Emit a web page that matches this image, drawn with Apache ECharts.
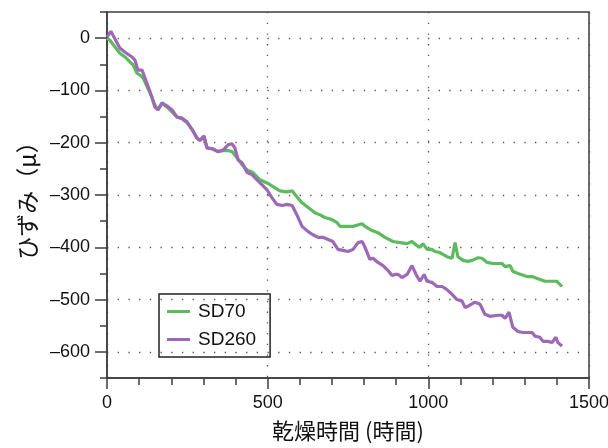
<!DOCTYPE html>
<html>
<head>
<meta charset="utf-8">
<script src="https://cdn.jsdelivr.net/npm/echarts@6/dist/echarts.min.js"></script>
<style>
  html, body { margin: 0; padding: 0; background: #fff; }
  #chart { width: 608px; height: 448px; }
</style>
</head>
<body>
<div id="chart"></div>
<script>
// drying time (hours) and strain (μ)
const hoursSD70 = [0, 9, 40, 56, 72, 81, 93, 103, 112, 134, 149, 159, 171, 187, 202, 218, 233, 249, 265, 280, 289, 302, 311, 330, 345, 361, 377, 389, 405, 420, 436, 454, 476, 498, 517, 538, 560, 576, 585, 607, 626, 647, 663, 678, 700, 716, 725, 747, 766, 794, 803, 825, 843, 865, 890, 912, 934, 949, 965, 974, 983, 996, 1011, 1021, 1036, 1058, 1074, 1083, 1092, 1108, 1123, 1136, 1155, 1167, 1183, 1201, 1229, 1239, 1254, 1263, 1279, 1307, 1323, 1341, 1363, 1385, 1400, 1416];
const strainSD70 = [0, -4, -29, -36, -46, -51, -67, -71, -76, -105, -128, -137, -124, -132, -141, -151, -154, -162, -175, -191, -195, -189, -210, -212, -217, -215, -215, -217, -229, -242, -252, -257, -271, -277, -284, -292, -294, -292, -299, -315, -324, -334, -338, -343, -347, -353, -360, -360, -360, -355, -360, -368, -372, -381, -389, -391, -393, -389, -397, -400, -393, -404, -404, -408, -410, -418, -421, -391, -418, -425, -427, -425, -420, -421, -429, -431, -431, -437, -435, -446, -450, -456, -456, -460, -465, -465, -465, -475];

const hoursSD260 = [0, 12, 40, 56, 78, 87, 96, 109, 124, 140, 149, 159, 171, 187, 202, 218, 233, 249, 265, 280, 289, 302, 311, 330, 345, 361, 377, 389, 398, 408, 420, 436, 451, 467, 482, 498, 513, 529, 545, 560, 576, 591, 607, 626, 641, 657, 672, 688, 703, 719, 734, 750, 766, 781, 794, 803, 818, 828, 843, 859, 874, 887, 896, 906, 918, 934, 949, 962, 974, 987, 996, 1011, 1027, 1043, 1058, 1074, 1089, 1105, 1114, 1123, 1145, 1161, 1176, 1192, 1217, 1229, 1239, 1251, 1263, 1279, 1295, 1323, 1332, 1347, 1357, 1372, 1385, 1397, 1403, 1416];
const strainSD260 = [2, 13, -19, -27, -36, -42, -61, -61, -86, -113, -132, -137, -124, -130, -137, -151, -153, -160, -175, -191, -196, -187, -210, -212, -217, -214, -204, -202, -210, -233, -238, -257, -261, -271, -280, -290, -305, -318, -320, -318, -320, -338, -360, -370, -376, -381, -381, -385, -389, -404, -406, -408, -404, -391, -389, -400, -423, -421, -429, -435, -444, -454, -452, -452, -458, -452, -435, -452, -465, -452, -465, -467, -475, -475, -481, -490, -500, -503, -515, -513, -505, -509, -528, -532, -530, -530, -536, -524, -553, -561, -563, -563, -570, -572, -580, -580, -582, -572, -582, -589];

const yMajorTicks = [0, -100, -200, -300, -400, -500, -600];

const seriesNames = ['SD70', 'SD260'];
const seriesColors = ['#5cba5f', '#9d68b5'];

const numFont = 'Liberation Sans, Arial, sans-serif';
const jpFont = 'Noto Sans CJK JP, sans-serif';
const axisColor = '#3c3c3c';
const dotted = { color: '#555', width: 1.3, type: [1.3, 9.4] };
const tickLine = { color: axisColor, width: 1.5 };

const chart = echarts.init(document.getElementById('chart'));

const option = {
  animation: false,
  backgroundColor: '#fff',
  grid: {
    left: 107, right: 19, top: 12, bottom: 70,
    outerBoundsMode: 'none',
    containLabel: false,
    show: true,
    borderColor: axisColor,
    borderWidth: 1.5,
    backgroundColor: 'transparent'
  },
  legend: {
    left: 159, top: 294,
    orient: 'vertical',
    data: seriesNames,
    icon: 'rect',
    itemWidth: 23, itemHeight: 3, itemGap: 9,
    padding: [8, 14, 8, 8],
    borderColor: '#222', borderWidth: 1.5,
    textStyle: { fontFamily: numFont, fontSize: 19, lineHeight: 14, color: '#111', padding: [0, 0, 0, 3] }
  },
  xAxis: [
    {
      type: 'value',
      position: 'bottom',
      min: 0, max: 1500, interval: 500,
      name: '乾燥時間 (時間)',
      nameLocation: 'middle',
      nameGap: 42,
      nameTextStyle: { fontFamily: jpFont, fontSize: 22, color: '#111' },
      axisLine: { show: true, onZero: false, lineStyle: tickLine },
      axisTick: { show: true, inside: false, length: 11, lineStyle: tickLine },
      axisLabel: {
        margin: 16, fontFamily: numFont, fontSize: 18, color: '#111',
        formatter: v => String(v)
      },
      splitLine: { show: true, lineStyle: dotted }
    },
    {
      // minor ticks every 100
      type: 'value',
      position: 'bottom',
      min: 0, max: 1500, interval: 100,
      axisLine: { show: false, onZero: false },
      axisTick: { show: true, inside: false, length: 7, lineStyle: tickLine },
      axisLabel: { show: false },
      splitLine: { show: false }
    }
  ],
  yAxis: [
    {
      type: 'value',
      position: 'left',
      min: -650, max: 50,
      name: 'ひずみ（μ）',
      nameLocation: 'middle',
      nameGap: 62,
      nameRotate: 90,
      nameTextStyle: { fontFamily: jpFont, fontSize: 23, color: '#111' },
      axisLine: { show: true, onZero: false, lineStyle: tickLine },
      axisTick: { customValues: yMajorTicks, length: 12, lineStyle: tickLine },
      axisLabel: {
        customValues: yMajorTicks,
        margin: 17, fontFamily: numFont, fontSize: 18, color: '#111',
        formatter: v => (v === 0 ? '0' : '\u2013' + Math.abs(v))
      },
      splitLine: { show: true, lineStyle: dotted }
    },
    {
      // minor ticks every 50
      type: 'value',
      position: 'left',
      min: -650, max: 50, interval: 50,
      axisLine: { show: false, onZero: false },
      axisTick: { show: true, length: 7, lineStyle: tickLine },
      axisLabel: { show: false },
      splitLine: { show: false }
    }
  ],
  series: [
    {
      name: seriesNames[0],
      type: 'line',
      symbol: 'none',
      color: seriesColors[0],
      lineStyle: { color: seriesColors[0], width: 3.2 },
      data: hoursSD70.map((h, i) => [h, strainSD70[i]])
    },
    {
      name: seriesNames[1],
      type: 'line',
      symbol: 'none',
      color: seriesColors[1],
      lineStyle: { color: seriesColors[1], width: 3.2 },
      data: hoursSD260.map((h, i) => [h, strainSD260[i]])
    }
  ]
};

chart.setOption(option);
</script>
</body>
</html>
